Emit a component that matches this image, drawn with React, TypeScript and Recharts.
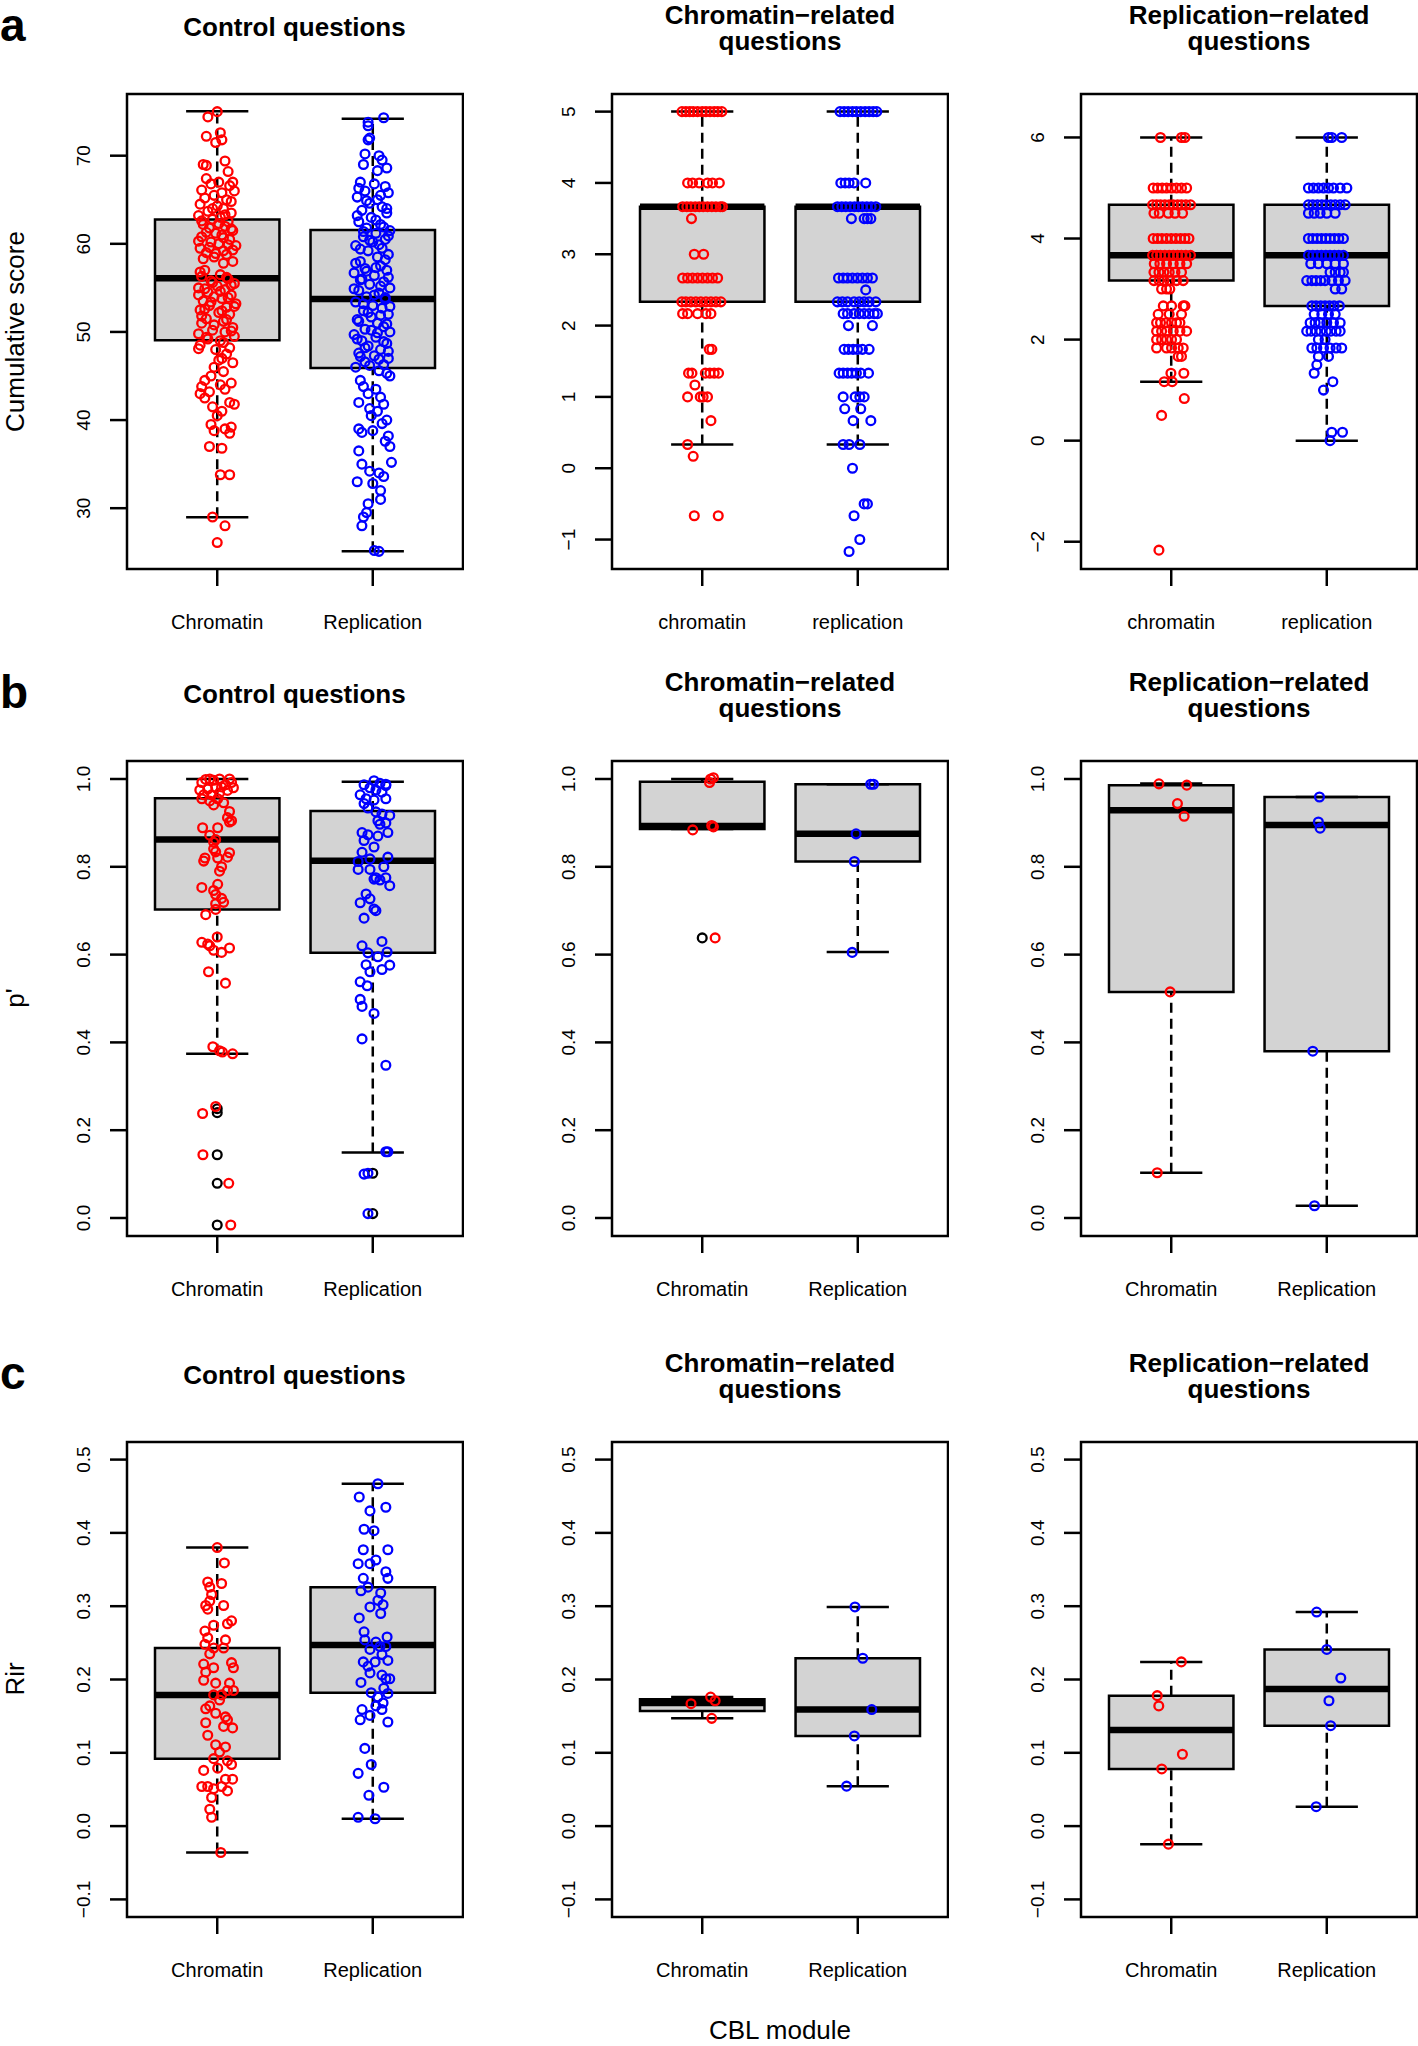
import React from "react";
import { ComposedChart, XAxis, YAxis, Scatter, ReferenceArea, ReferenceLine } from "recharts";

type Stats = [number, number, number, number, number]; // lo, q1, median, q3, hi
type Pt = [number, number]; // jitter dx, value
type Levels = [number, number[]][]; // value, jitter offsets

const FONT = "'Liberation Sans', Arial, Helvetica, sans-serif";
const RED = "#ff0000";
const BLUE = "#0000ff";

const CAT_UPPER = ["Chromatin", "Replication"];
const CAT_LOWER = ["chromatin", "replication"];
const COL_TITLES = [["Control questions"], ["Chromatin\u2212related", "questions"], ["Replication\u2212related", "questions"]];
const ROW_LETTERS = ["a", "b", "c"];
const ROW_Y_TITLES = ["Cumulative score", "p'", "Rir"];
const X_TITLE = "CBL module";

// y domains and ticks per row / panel
const A1_DOMAIN: [number, number] = [23.1, 77.0];
const A2_DOMAIN: [number, number] = [-1.413, 5.247];
const A3_DOMAIN: [number, number] = [-2.54, 6.86];
const B_DOMAIN: [number, number] = [-0.041, 1.041];
const C_DOMAIN: [number, number] = [-0.124, 0.524];
const A1_TICKS = [30, 40, 50, 60, 70];
const A2_TICKS = [-1, 0, 1, 2, 3, 4, 5];
const A3_TICKS = [-2, 0, 2, 4, 6];
const B_TICKS = [0, 0.2, 0.4, 0.6, 0.8, 1.0];
const C_TICKS = [-0.1, 0, 0.1, 0.2, 0.3, 0.4, 0.5];

// box statistics [chromatin, replication]
const A1_STATS: Stats[] = [[28.98, 49.05, 56.1, 62.77, 75.05], [25.1, 45.9, 53.73, 61.56, 74.2]];
const A2_STATS: Stats[] = [[0.333, 2.333, 3.667, 3.667, 5], [0.333, 2.333, 3.667, 3.667, 5]];
const A3_STATS: Stats[] = [[1.167, 3.167, 3.667, 4.667, 6], [0, 2.667, 3.667, 4.667, 6]];
const B1_STATS: Stats[] = [[0.374, 0.703, 0.862, 0.956, 1.0], [0.149, 0.604, 0.814, 0.927, 0.994]];
const B2_STATS: Stats[] = [[0.886, 0.886, 0.893, 0.994, 1.0], [0.606, 0.812, 0.875, 0.988, 0.988]];
const B3_STATS: Stats[] = [[0.103, 0.515, 0.929, 0.986, 0.99], [0.028, 0.38, 0.895, 0.959, 0.959]];
const C1_STATS: Stats[] = [[-0.036, 0.092, 0.179, 0.243, 0.38], [0.01, 0.182, 0.247, 0.326, 0.467]];
const C2_STATS: Stats[] = [[0.147, 0.157, 0.168, 0.173, 0.176], [0.0545, 0.123, 0.159, 0.229, 0.299]];
const C3_STATS: Stats[] = [[-0.0246, 0.078, 0.131, 0.178, 0.224], [0.0265, 0.137, 0.187, 0.241, 0.292]];

// boxplot outliers (black)
const B1_OUT = [[0.249, 0.24, 0.144, 0.079, -0.016], [0.102, 0.01]];
const B2_OUT = [[0.638], []];

// points
const A1_CHR: Pt[] = [
  [0, 75.0], [-0.06, 74.4], [0.02, 72.6], [-0.07, 72.2], [0.03, 71.8], [-0.01, 71.5], [0.05, 69.4], [-0.09, 69.0],
  [-0.07, 68.9], [0.07, 68.2], [-0.07, 67.4], [0.1, 67.0], [0.01, 67.0], [-0.04, 66.8], [0.08, 66.6], [-0.1, 66.1],
  [0.11, 66.0], [0.03, 65.8], [-0.02, 65.5], [0.06, 65.0], [-0.11, 64.5], [0, 64.3], [0.04, 64.0], [-0.06, 63.7],
  [0.09, 63.5], [-0.12, 63.2], [0.02, 63.0], [-0.03, 62.8], [0.07, 62.5], [-0.09, 62.2], [0.05, 62.0], [-0.05, 61.8],
  [0.1, 61.5], [-0.01, 61.2], [0.03, 61.0], [-0.1, 60.8], [0.08, 60.5], [-0.04, 60.2], [0.01, 60.0], [0.12, 59.8],
  [-0.11, 59.5], [0.04, 59.2], [-0.07, 59.0], [0.06, 58.8], [-0.02, 58.5], [0.1, 58.0], [-0.08, 57.0], [0.02, 56.5],
  [-0.1, 56.3], [0.07, 56.0], [-0.04, 55.8], [0.11, 55.5], [0, 55.2], [-0.12, 55.0], [0.05, 54.8], [-0.06, 54.5],
  [0.09, 54.2], [-0.02, 54.0], [0.03, 53.8], [-0.09, 53.5], [0.12, 53.2], [-0.05, 53.0], [0.06, 52.8], [-0.11, 52.5],
  [0.01, 52.2], [0.08, 52.0], [-0.07, 51.5], [0.04, 51.2], [-0.1, 51.0], [0.1, 50.5], [-0.03, 50.2], [0.05, 50.0],
  [-0.12, 49.8], [0.11, 49.5], [-0.06, 49.2], [0.02, 49.0], [-0.11, 48.5], [0.08, 48.2], [-0.01, 48.0], [0.06, 47.5],
  [0.03, 47.0], [0.1, 46.5], [-0.02, 46.0], [0.04, 45.5], [-0.04, 45.0], [-0.08, 44.5], [0.09, 44.2], [0.02, 44.0],
  [-0.1, 43.8], [0.05, 43.5], [-0.05, 43.2], [-0.11, 43.0], [-0.08, 42.5], [0.08, 42.0], [0.11, 41.8], [-0.03, 41.5],
  [0.03, 41.0], [0, 40.5], [-0.04, 39.5], [0.09, 39.2], [0.05, 39.0], [-0.02, 38.8], [0.08, 38.5], [-0.05, 37.0],
  [0.03, 36.8], [0.02, 33.8], [0.08, 33.8], [-0.03, 29.0], [0.05, 28.0], [0, 26.1],
  [-0.08, 65.2], [0.09, 64.8], [-0.03, 64.0], [0.05, 63.3], [-0.1, 62.6], [0.01, 62.3], [0.09, 61.7], [-0.07, 61.3],
  [0.04, 60.7], [-0.12, 60.3], [0.07, 59.9], [-0.05, 59.6], [0.1, 59.3], [-0.01, 58.9], [-0.09, 58.3], [0.04, 57.8],
  [-0.11, 56.8], [0.06, 56.2], [-0.03, 55.6], [0.09, 55.3], [-0.08, 54.9], [0.02, 54.6], [-0.12, 54.2], [0.07, 53.9],
  [-0.04, 53.4], [0.11, 52.9], [-0.08, 52.6], [0.03, 52.4], [-0.1, 51.8], [0.06, 51.4], [-0.02, 50.8], [0.09, 50.1],
  [-0.07, 49.4], [0.04, 48.8], [-0.12, 48.1], [0.01, 46.8],
];
const A1_REP: Pt[] = [
  [0.07, 74.3], [-0.03, 73.8], [-0.03, 73.4], [-0.02, 72.0], [-0.03, 71.8], [-0.05, 70.2], [0.04, 70.0], [0.06, 69.5],
  [-0.06, 69.0], [0.09, 68.6], [0.03, 68.3], [-0.08, 67.0], [0.01, 66.8], [0.08, 66.5], [-0.05, 66.0], [0.1, 65.8],
  [-0.1, 65.3], [0.03, 65.0], [-0.02, 64.6], [0.06, 64.2], [-0.07, 63.8], [0.09, 63.5], [-0.01, 63.0], [-0.09, 62.5],
  [0.05, 62.2], [-0.04, 61.8], [0.11, 61.5], [0.02, 61.2], [-0.06, 60.8], [0.08, 60.5], [0, 60.2], [-0.11, 59.8],
  [0.06, 59.5], [-0.03, 59.2], [0.1, 58.8], [0.03, 58.5], [-0.08, 58.0], [0.05, 57.5], [-0.05, 57.2], [0.09, 57.0],
  [-0.12, 56.7], [0.01, 56.4], [-0.07, 56.0], [0.07, 55.7], [-0.02, 55.4], [0.11, 55.0], [-0.09, 54.7], [0.04, 54.4],
  [-0.04, 54.0], [0.08, 53.7], [-0.11, 53.4], [0, 53.0], [0.06, 52.7], [-0.06, 52.4], [0.1, 52.0], [-0.01, 51.7],
  [-0.1, 51.4], [0.03, 51.0], [0.07, 50.6], [-0.05, 50.3], [0.11, 50.0], [-0.12, 49.7], [0.02, 49.4], [-0.07, 49.0],
  [0.09, 48.7], [-0.03, 48.4], [0.05, 48.0], [-0.09, 47.6], [0.01, 47.3], [0.1, 47.0], [-0.05, 46.6], [0.07, 46.3],
  [-0.11, 46.0], [0.04, 45.6], [0.11, 45.0], [-0.08, 44.5], [-0.06, 43.8], [0.02, 43.5], [-0.03, 43.0], [0.05, 42.6],
  [-0.09, 42.0], [0.07, 41.8], [-0.02, 41.3], [0.03, 41.0], [-0.01, 40.5], [0.09, 40.0], [0.06, 39.6], [-0.09, 39.0],
  [0, 38.8], [-0.07, 38.6], [0.1, 38.2], [0.08, 37.6], [0.11, 37.0], [-0.09, 36.5], [0.12, 35.2], [-0.07, 35.0],
  [-0.02, 34.2], [0.04, 34.0], [0.07, 33.6], [-0.1, 33.0], [0, 32.8], [0.05, 32.0], [0.05, 31.0], [-0.03, 30.5],
  [-0.04, 29.5], [-0.06, 29.0], [-0.07, 28.0], [0.01, 25.2], [0.04, 25.1],
  [-0.09, 66.3], [0.05, 65.5], [-0.04, 64.9], [0.09, 64.0], [-0.1, 63.2], [0.02, 62.7], [0.07, 61.9], [-0.06, 61.4],
  [0.1, 60.9], [-0.02, 60.4], [0.04, 59.9], [-0.08, 59.4], [0.08, 58.2], [-0.11, 57.8], [0.02, 57.3], [-0.04, 56.9],
  [0.1, 56.2], [-0.08, 55.9], [0.05, 55.2], [-0.12, 54.9], [0.01, 54.2], [0.08, 53.9], [-0.06, 53.2], [0.11, 52.9],
  [-0.03, 52.2], [0.05, 51.9], [-0.09, 51.2], [0.09, 50.9], [-0.01, 50.2], [0.03, 49.9], [-0.1, 49.2], [0.07, 48.9],
  [-0.05, 48.2], [0.1, 47.8], [-0.08, 47.2], [0.04, 46.9], [-0.02, 46.2], [0.09, 45.3],
];

const A2_CHR_LEVELS: Levels = [
  [5, [-0.13, -0.105, -0.08, -0.058, -0.03, 0, 0.024, 0.05, 0.077, 0.1, 0.126]],
  [4, [-0.094, -0.062, -0.02, 0.034, 0.066, 0.11]],
  [3.667, [-0.126, -0.099, -0.073, -0.045, -0.019, 0.006, 0.034, 0.062, 0.088, 0.116, 0.13]],
  [3.5, [-0.069]],
  [3, [-0.051, 0.009]],
  [2.667, [-0.126, -0.094, -0.062, -0.03, 0.002, 0.034, 0.066, 0.099]],
  [2.333, [-0.131, -0.105, -0.073, -0.041, -0.009, 0.024, 0.056, 0.088, 0.12]],
  [2.167, [-0.126, -0.094, -0.03, 0.024, 0.056]],
  [1.667, [0.045, 0.062]],
  [1.333, [-0.088, -0.066, 0.02, 0.049, 0.077, 0.105]],
  [1.167, [-0.047]],
  [1, [-0.094, -0.013, 0.006, 0.034]],
  [0.667, [0.056]],
  [0.333, [-0.094]],
  [0.167, [-0.058]],
  [-0.667, [-0.051, 0.103]],
];
const A2_REP_LEVELS: Levels = [
  [5, [-0.114, -0.088, -0.062, -0.034, -0.009, 0.019, 0.047, 0.073, 0.099, 0.122]],
  [4, [-0.109, -0.081, -0.056, -0.024, 0.051]],
  [3.667, [-0.131, -0.103, -0.077, -0.049, -0.021, 0.004, 0.03, 0.058, 0.086, 0.116]],
  [3.5, [-0.041, 0.041, 0.062, 0.084]],
  [2.667, [-0.124, -0.094, -0.066, -0.034, -0.002, 0.03, 0.062, 0.094]],
  [2.5, [0.051]],
  [2.333, [-0.131, -0.099, -0.066, -0.024, 0.009, 0.041, 0.073, 0.116]],
  [2.167, [-0.094, -0.066, -0.024, 0.009, 0.041, 0.073, 0.105, 0.126]],
  [2, [-0.06, 0.094]],
  [1.667, [-0.088, -0.06, -0.03, -0.002, 0.03, 0.073]],
  [1.333, [-0.12, -0.094, -0.066, -0.039, -0.009, 0.019, 0.069]],
  [1, [-0.094, -0.017, 0.013, 0.041]],
  [0.833, [-0.084, 0.019]],
  [0.667, [-0.03, 0.084]],
  [0.333, [-0.094, -0.056, 0.013]],
  [0, [-0.034]],
  [-0.5, [0.041, 0.062]],
  [-0.667, [-0.024]],
  [-1, [0.013]],
  [-1.167, [-0.056]],
];
const A3_CHR_LEVELS: Levels = [
  [6, [-0.069, 0.066, 0.088]],
  [5, [-0.116, -0.088, -0.058, -0.03, 0.002, 0.034, 0.066, 0.099]],
  [4.667, [-0.12, -0.094, -0.069, -0.041, -0.013, 0.013, 0.041, 0.066, 0.094, 0.124]],
  [4.5, [-0.111, -0.077, -0.019, 0.024, 0.073]],
  [4, [-0.116, -0.088, -0.06, -0.03, 0, 0.03, 0.06, 0.088, 0.114]],
  [3.667, [-0.12, -0.094, -0.069, -0.041, -0.013, 0.013, 0.041, 0.066, 0.094, 0.124]],
  [3.5, [-0.109, -0.073, -0.03, 0.013, 0.056, 0.099]],
  [3.333, [-0.111, -0.079, -0.047, -0.013, 0.024, 0.066]],
  [3.167, [-0.111, -0.077, -0.047, -0.009, 0.034, 0.077]],
  [3, [-0.062, -0.03, -0.009]],
  [2.667, [-0.051, 0.002, 0.077, 0.088]],
  [2.5, [-0.084, -0.013, 0.066]],
  [2.333, [-0.094, -0.069, -0.034, 0.002, 0.034, 0.056]],
  [2.167, [-0.094, -0.062, -0.03, 0.013, 0.056, 0.099]],
  [2, [-0.094, -0.062, -0.03, 0.002, 0.034]],
  [1.833, [-0.094, -0.03, 0.002, 0.045, 0.077]],
  [1.667, [0.045, 0.066]],
  [1.333, [-0.002, 0.081]],
  [1.167, [-0.045, 0.006]],
  [0.833, [0.084]],
  [0.5, [-0.062]],
  [-2.167, [-0.079]],
];
const A3_REP_LEVELS: Levels = [
  [6, [0.011, 0.032, 0.096]],
  [5, [-0.118, -0.086, -0.054, -0.021, 0.011, 0.043, 0.086, 0.129]],
  [4.667, [-0.118, -0.09, -0.06, -0.032, -0.004, 0.026, 0.054, 0.086, 0.118]],
  [4.5, [-0.118, -0.081, -0.043, 0, 0.054]],
  [4, [-0.118, -0.09, -0.062, -0.034, -0.006, 0.021, 0.049, 0.077, 0.107]],
  [3.667, [-0.118, -0.09, -0.062, -0.034, -0.006, 0.021, 0.049, 0.077, 0.107]],
  [3.5, [-0.103, -0.054, 0, 0.054, 0.107]],
  [3.333, [0.021, 0.054, 0.086, 0.107]],
  [3.167, [-0.129, -0.096, -0.069, -0.039, -0.011, 0.032, 0.075, 0.118]],
  [3, [0.054, 0.096]],
  [2.667, [-0.096, -0.069, -0.039, -0.011, 0.017, 0.047, 0.081]],
  [2.5, [-0.081, -0.032, 0.011, 0.054]],
  [2.333, [-0.107, -0.075, -0.043, 0, 0.043, 0.086]],
  [2.167, [-0.129, -0.101, -0.069, -0.039, -0.004, 0.026, 0.06, 0.086]],
  [2, [-0.054, -0.011]],
  [1.833, [-0.096, -0.064, -0.021, 0.021, 0.06, 0.096]],
  [1.667, [-0.054, 0.011]],
  [1.5, [-0.064]],
  [1.333, [-0.081]],
  [1.167, [0.039]],
  [1, [-0.021]],
  [0.167, [0.032, 0.101]],
  [0, [0.021]],
];

const B1_CHR: Pt[] = [
  [-0.099, 0.992], [-0.074, 0.999], [-0.048, 1.0], [-0.023, 0.997], [0.015, 1.0], [0.079, 1.0], [0.092, 0.992],
  [0.053, 0.987], [0.028, 0.982], [-0.01, 0.98], [-0.061, 0.977], [-0.112, 0.975], [-0.087, 0.964], [-0.036, 0.964],
  [0.015, 0.968], [0.066, 0.974], [0.104, 0.98], [-0.099, 0.955], [-0.048, 0.95], [0.003, 0.955], [0.041, 0.946],
  [-0.023, 0.941], [0.079, 0.926], [0.066, 0.912], [0.092, 0.905], [0.079, 0.902], [-0.094, 0.889], [0.003, 0.889],
  [-0.048, 0.872], [-0.01, 0.862], [-0.023, 0.856], [-0.023, 0.841], [-0.01, 0.834], [0.079, 0.832], [-0.079, 0.82],
  [-0.087, 0.813], [0.003, 0.82], [0.028, 0.8], [0.015, 0.79], [0.066, 0.822], [-0.099, 0.753], [0.003, 0.76],
  [-0.023, 0.746], [-0.01, 0.737], [0.028, 0.728], [0.041, 0.719], [-0.01, 0.716], [-0.01, 0.703], [-0.074, 0.691],
  [0, 0.64], [-0.099, 0.628], [-0.061, 0.624], [-0.048, 0.62], [-0.023, 0.61], [0.028, 0.605], [0.079, 0.615],
  [-0.056, 0.561], [0.053, 0.535], [-0.028, 0.39], [0.015, 0.381], [0.033, 0.378], [0.099, 0.374], [-0.01, 0.254],
  [-0.094, 0.238], [-0.092, 0.144], [0.074, 0.079], [0.087, -0.016],
];
const B1_REP: Pt[] = [
  [-0.056, 0.987], [0.008, 0.996], [0.046, 0.99], [0.084, 0.988], [-0.018, 0.98], [0.02, 0.975], [0.059, 0.97],
  [0.084, 0.985], [-0.081, 0.964], [-0.043, 0.955], [0.008, 0.952], [0.084, 0.955], [-0.056, 0.944], [-0.031, 0.934],
  [0.02, 0.925], [0.059, 0.92], [0.109, 0.917], [0.033, 0.905], [0.046, 0.897], [0.084, 0.9], [-0.069, 0.878],
  [-0.031, 0.873], [0.033, 0.87], [0.097, 0.878], [-0.056, 0.86], [0.008, 0.845], [-0.069, 0.833], [-0.018, 0.818],
  [-0.094, 0.812], [0.097, 0.822], [0.071, 0.8], [-0.094, 0.794], [-0.018, 0.794], [0.02, 0.775], [0.046, 0.77],
  [0.008, 0.772], [0.084, 0.775], [0.109, 0.757], [-0.043, 0.738], [-0.018, 0.727], [-0.081, 0.718], [0.008, 0.704],
  [0.02, 0.7], [-0.056, 0.683], [-0.069, 0.62], [0.059, 0.63], [-0.031, 0.604], [0.092, 0.606], [0.033, 0.595],
  [-0.043, 0.577], [0.109, 0.576], [0.059, 0.566], [-0.018, 0.561], [-0.081, 0.538], [-0.036, 0.529], [-0.081, 0.498],
  [-0.069, 0.482], [0.008, 0.466], [-0.069, 0.408], [0.084, 0.348], [0.097, 0.151], [0.084, 0.151], [-0.056, 0.1],
  [-0.031, 0.102], [-0.031, 0.01],
];
const B2_CHR: Pt[] = [[0.054, 1.0], [0.072, 1.003], [0.047, 0.992], [-0.061, 0.884], [0.061, 0.894], [0.072, 0.891], [0.083, 0.638]];
const B2_REP: Pt[] = [[0.083, 0.988], [0.101, 0.988], [-0.011, 0.875], [-0.022, 0.812], [-0.036, 0.605]];
const B3_CHR: Pt[] = [[-0.079, 0.989], [0.1, 0.986], [0.04, 0.944], [0.083, 0.915], [-0.007, 0.515], [-0.09, 0.103]];
const B3_REP: Pt[] = [[-0.047, 0.959], [-0.054, 0.902], [-0.043, 0.888], [-0.09, 0.38], [-0.079, 0.028]];

const C1_CHR: Pt[] = [
  [0, 0.38], [0.046, 0.359], [-0.061, 0.333], [0.028, 0.331], [-0.048, 0.326], [-0.036, 0.316], [-0.048, 0.307],
  [-0.074, 0.301], [0.041, 0.301], [-0.061, 0.296], [0.092, 0.28], [0.066, 0.276], [-0.023, 0.274], [-0.079, 0.266],
  [-0.061, 0.257], [0.053, 0.254], [-0.079, 0.248], [-0.023, 0.243], [0.041, 0.243], [-0.048, 0.235], [-0.087, 0.221],
  [-0.023, 0.216], [0.092, 0.223], [0.104, 0.216], [-0.074, 0.21], [-0.087, 0.199], [-0.01, 0.195], [0.079, 0.195],
  [0.066, 0.185], [0.104, 0.185], [-0.023, 0.179], [0.028, 0.179], [0.015, 0.172], [-0.048, 0.164], [-0.074, 0.16],
  [-0.01, 0.154], [0.053, 0.149], [0.066, 0.145], [0.041, 0.136], [0.099, 0.134], [-0.074, 0.141], [-0.061, 0.124],
  [-0.01, 0.111], [0.053, 0.108], [0.015, 0.101], [-0.023, 0.092], [0.066, 0.089], [0.092, 0.084], [0.003, 0.079],
  [-0.087, 0.076], [0.053, 0.064], [0.099, 0.064], [-0.099, 0.054], [-0.061, 0.054], [-0.023, 0.051], [0.028, 0.054],
  [0.066, 0.048], [-0.036, 0.039], [-0.048, 0.023], [-0.036, 0.012], [0.023, -0.036],
];
const C1_REP: Pt[] = [
  [0.033, 0.467], [-0.087, 0.449], [-0.018, 0.43], [0.084, 0.435], [-0.056, 0.405], [0.008, 0.403], [-0.061, 0.377],
  [0.097, 0.377], [-0.094, 0.358], [-0.018, 0.358], [0.02, 0.363], [0.084, 0.347], [0.097, 0.338], [-0.061, 0.338],
  [-0.031, 0.326], [-0.076, 0.321], [0.051, 0.318], [0.033, 0.308], [0.066, 0.302], [-0.018, 0.299], [0.051, 0.29],
  [-0.087, 0.284], [-0.056, 0.265], [0.092, 0.258], [-0.051, 0.254], [0.02, 0.251], [0.046, 0.245], [0.084, 0.245],
  [-0.018, 0.241], [0.059, 0.234], [-0.061, 0.224], [0.015, 0.224], [0.097, 0.226], [-0.031, 0.218], [-0.018, 0.209],
  [0.059, 0.206], [0.084, 0.201], [0.109, 0.201], [-0.076, 0.196], [0.071, 0.188], [-0.01, 0.182], [0.097, 0.181],
  [0.033, 0.176], [0.066, 0.168], [0.02, 0.164], [0.059, 0.159], [-0.069, 0.159], [-0.018, 0.151], [-0.081, 0.145],
  [0.097, 0.142], [-0.051, 0.106], [-0.01, 0.084], [-0.094, 0.072], [-0.025, 0.042], [0.071, 0.053], [-0.094, 0.012],
  [0.015, 0.01],
];
const C2_CHR: Pt[] = [[-0.072, 0.167], [0.054, 0.176], [0.083, 0.171], [0.061, 0.147]];
const C2_REP: Pt[] = [[-0.018, 0.299], [0.032, 0.229], [0.09, 0.159], [-0.022, 0.123], [-0.072, 0.0545]];
const C3_CHR: Pt[] = [[0.065, 0.224], [-0.09, 0.178], [-0.08, 0.164], [0.072, 0.098], [-0.061, 0.078], [-0.018, -0.0246]];
const C3_REP: Pt[] = [[-0.065, 0.292], [0, 0.241], [0.09, 0.202], [0.014, 0.171], [0.025, 0.137], [-0.068, 0.0265]];

// layout
const COL_LEFT = [126.5, 612, 1081];
const ROW_TOP = [94, 760.5, 1441.5];
const PLOT_W = 336;
const PLOT_H = 475;
const Y_AXIS_W = 127;
const TOP_M = 94;
const X_AXIS_H = 80;
const X_DOMAIN: [number, number] = [0.42, 2.58];
const BOX_HALF = 0.4;
const CAP_HALF = 0.2;
const DOT_R = 4.4;
const DOT_W = 2.3;
const Y_TITLE_X = 23.5;

const flat = (levels: Levels): Pt[] => levels.flatMap(([y, dxs]) => dxs.map((dx) => [dx, y] as Pt));
const minus = (s: string) => s.replace("-", "\u2212");
const fmtInt = (v: number) => minus(String(v));
const fmtOne = (v: number) => minus(v.toFixed(1));

interface PanelDef {
  stats: Stats[];
  points: Pt[][];
  outliers?: number[][];
  domain: [number, number];
  ticks: number[];
  fmt: (v: number) => string;
  cats: string[];
}

const PANELS: PanelDef[][] = [
  [
    { stats: A1_STATS, points: [A1_CHR, A1_REP], domain: A1_DOMAIN, ticks: A1_TICKS, fmt: fmtInt, cats: CAT_UPPER },
    { stats: A2_STATS, points: [flat(A2_CHR_LEVELS), flat(A2_REP_LEVELS)], domain: A2_DOMAIN, ticks: A2_TICKS, fmt: fmtInt, cats: CAT_LOWER },
    { stats: A3_STATS, points: [flat(A3_CHR_LEVELS), flat(A3_REP_LEVELS)], domain: A3_DOMAIN, ticks: A3_TICKS, fmt: fmtInt, cats: CAT_LOWER },
  ],
  [
    { stats: B1_STATS, points: [B1_CHR, B1_REP], outliers: B1_OUT, domain: B_DOMAIN, ticks: B_TICKS, fmt: fmtOne, cats: CAT_UPPER },
    { stats: B2_STATS, points: [B2_CHR, B2_REP], outliers: B2_OUT, domain: B_DOMAIN, ticks: B_TICKS, fmt: fmtOne, cats: CAT_UPPER },
    { stats: B3_STATS, points: [B3_CHR, B3_REP], domain: B_DOMAIN, ticks: B_TICKS, fmt: fmtOne, cats: CAT_UPPER },
  ],
  [
    { stats: C1_STATS, points: [C1_CHR, C1_REP], domain: C_DOMAIN, ticks: C_TICKS, fmt: fmtOne, cats: CAT_UPPER },
    { stats: C2_STATS, points: [C2_CHR, C2_REP], domain: C_DOMAIN, ticks: C_TICKS, fmt: fmtOne, cats: CAT_UPPER },
    { stats: C3_STATS, points: [C3_CHR, C3_REP], domain: C_DOMAIN, ticks: C_TICKS, fmt: fmtOne, cats: CAT_UPPER },
  ],
];

const COLORS = [RED, BLUE];

function Panel({ def }: { def: PanelDef }) {
  const { stats, points, outliers, domain, ticks, fmt, cats } = def;
  const lineProps = { stroke: "#000", strokeWidth: 2.5, ifOverflow: "visible" as const };
  return (
    <ComposedChart
      width={Y_AXIS_W + PLOT_W + 1}
      height={TOP_M + PLOT_H + X_AXIS_H}
      margin={{ top: TOP_M, right: 1, bottom: 0, left: 0 }}
    >
      <XAxis
        type="number"
        dataKey="x"
        domain={X_DOMAIN}
        ticks={[1, 2]}
        interval={0}
        allowDataOverflow
        height={X_AXIS_H}
        axisLine={false}
        tickSize={17}
        tickMargin={29}
        tickLine={{ stroke: "#000", strokeWidth: 2.5 }}
        tick={{ fill: "#000", fontSize: 20, fontFamily: FONT }}
        tickFormatter={(v: number) => cats[v - 1]}
      />
      <YAxis
        type="number"
        dataKey="y"
        domain={domain}
        ticks={ticks}
        interval={0}
        allowDataOverflow
        width={Y_AXIS_W}
        axisLine={false}
        tickSize={17}
        tickMargin={20}
        tickLine={{ stroke: "#000", strokeWidth: 2.5 }}
        tick={(p: any) => (
          <text
            x={p.x}
            y={p.y}
            transform={`rotate(-90 ${p.x} ${p.y})`}
            textAnchor="middle"
            fontSize={19}
            fontFamily={FONT}
            fill="#000"
          >
            {fmt(p.payload.value)}
          </text>
        )}
      />
      {stats.map(([lo, q1, med, q3, hi], i) => {
        const c = i + 1;
        return [
          <ReferenceLine key={`wl${i}`} segment={[{ x: c, y: lo }, { x: c, y: q1 }]} {...lineProps} strokeDasharray="10 6" />,
          <ReferenceLine key={`wh${i}`} segment={[{ x: c, y: q3 }, { x: c, y: hi }]} {...lineProps} strokeDasharray="10 6" />,
          <ReferenceLine key={`cl${i}`} segment={[{ x: c - CAP_HALF, y: lo }, { x: c + CAP_HALF, y: lo }]} {...lineProps} />,
          <ReferenceLine key={`ch${i}`} segment={[{ x: c - CAP_HALF, y: hi }, { x: c + CAP_HALF, y: hi }]} {...lineProps} />,
          <ReferenceArea
            key={`bx${i}`}
            x1={c - BOX_HALF}
            x2={c + BOX_HALF}
            y1={q1}
            y2={q3}
            fill="#d3d3d3"
            fillOpacity={1}
            stroke="#000"
            strokeWidth={2.5}
            ifOverflow="visible"
          />,
          <ReferenceLine key={`md${i}`} segment={[{ x: c - BOX_HALF, y: med }, { x: c + BOX_HALF, y: med }]} stroke="#000" strokeWidth={6.5} />,
        ];
      })}
      {(outliers || []).map((vals, i) => (
        <Scatter
          key={`out${i}`}
          data={vals.map((y) => ({ x: i + 1, y }))}
          isAnimationActive={false}
          shape={(p: any) => <circle cx={p.cx} cy={p.cy} r={DOT_R} fill="none" stroke="#000" strokeWidth={DOT_W} />}
        />
      ))}
      {points.map((pts, i) => (
        <Scatter
          key={`pts${i}`}
          data={pts.map(([dx, y]) => ({ x: i + 1 + dx, y }))}
          isAnimationActive={false}
          shape={(p: any) => <circle cx={p.cx} cy={p.cy} r={DOT_R} fill="none" stroke={COLORS[i]} strokeWidth={DOT_W} />}
        />
      ))}
      <ReferenceArea
        x1={X_DOMAIN[0]}
        x2={X_DOMAIN[1]}
        y1={domain[0]}
        y2={domain[1]}
        fill="none"
        stroke="#000"
        strokeWidth={2.5}
        ifOverflow="visible"
      />
    </ComposedChart>
  );
}

export default function App() {
  return (
    <div
      style={{
        position: "absolute",
        left: 0,
        top: 0,
        width: 1418,
        height: 2046,
        overflow: "hidden",
        background: "#fff",
        fontFamily: FONT,
      }}
    >
      {PANELS.map((row, r) =>
        row.map((def, c) => (
          <div
            key={`${r}-${c}`}
            style={{ position: "absolute", left: COL_LEFT[c] - Y_AXIS_W, top: ROW_TOP[r] - TOP_M }}
          >
            <Panel def={def} />
          </div>
        ))
      )}
      <svg
        width={1418}
        height={2046}
        style={{ position: "absolute", left: 0, top: 0, pointerEvents: "none" }}
        fontFamily={FONT}
      >
        {ROW_TOP.map((top, r) => (
          <g key={r}>
            <text x={0} y={top - 53} fontSize={46} fontWeight="bold" fill="#000">
              {ROW_LETTERS[r]}
            </text>
            <text
              x={Y_TITLE_X}
              y={top + PLOT_H / 2}
              transform={`rotate(-90 ${Y_TITLE_X} ${top + PLOT_H / 2})`}
              textAnchor="middle"
              fontSize={26}
              fill="#000"
            >
              {ROW_Y_TITLES[r]}
            </text>
            {COL_TITLES.map((lines, c) => {
              const cx = COL_LEFT[c] + PLOT_W / 2;
              return lines.length === 1 ? (
                <text key={c} x={cx} y={top - 58} textAnchor="middle" fontSize={26} fontWeight="bold" fill="#000">
                  {lines[0]}
                </text>
              ) : (
                <g key={c}>
                  <text x={cx} y={top - 70} textAnchor="middle" fontSize={26} fontWeight="bold" fill="#000">
                    {lines[0]}
                  </text>
                  <text x={cx} y={top - 44} textAnchor="middle" fontSize={26} fontWeight="bold" fill="#000">
                    {lines[1]}
                  </text>
                </g>
              );
            })}
          </g>
        ))}
        <text x={COL_LEFT[1] + PLOT_W / 2} y={2039} textAnchor="middle" fontSize={26} fill="#000">
          {X_TITLE}
        </text>
      </svg>
    </div>
  );
}
